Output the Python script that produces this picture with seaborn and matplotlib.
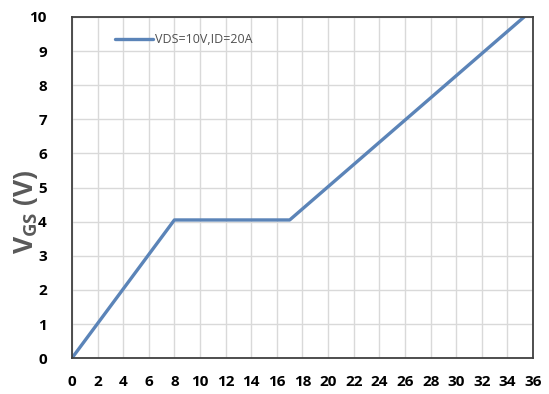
import matplotlib
matplotlib.use("Agg")
import matplotlib.pyplot as plt
import seaborn as sns
import pandas as pd

# Gate charge curve: gate-source voltage vs gate charge
qg_nc = [0, 8, 17, 35.3]
vgs_v = [0, 4.05, 4.05, 10]
series_label = "VDS=10V,ID=20A"
x_ticks = list(range(0, 37, 2))
y_ticks = list(range(0, 11))

df = pd.DataFrame({"Qg": qg_nc, "VGS": vgs_v, "cond": series_label})

sns.set_theme(style="white")
plt.rcParams["font.family"] = ["Open Sans", "DejaVu Sans"]

fig = plt.figure(figsize=(5.49, 3.94), dpi=100)
ax = fig.add_axes([0.131, 0.091, 0.840, 0.866])

sns.lineplot(data=df, x="Qg", y="VGS", hue="cond", palette=["#5B84B8"],
             linewidth=2.4, ax=ax, legend=True)

ax.set_xlim(0, 36)
ax.set_ylim(0, 10)
ax.set_xticks(x_ticks)
ax.set_yticks(y_ticks)
ax.grid(True, color="#D9D9D9", linewidth=1.0)
ax.set_axisbelow(True)

for s in ax.spines.values():
    s.set_color("#404040")
    s.set_linewidth(1.3)

ax.tick_params(axis="both", length=0, labelsize=11, colors="black")
ax.tick_params(axis="x", pad=12)
ax.tick_params(axis="y", pad=18)
for lab in ax.get_xticklabels() + ax.get_yticklabels():
    lab.set_fontweight("bold")

ax.set_xlabel("")
ax.set_ylabel(r"V$_{\mathregular{GS}}$ (V)", fontsize=19, fontweight="bold",
              color="#595959")
ax.yaxis.set_label_coords(-0.07, 0.43)

leg = ax.legend(loc="upper left", bbox_to_anchor=(0.07, 0.985), frameon=False,
                fontsize=9, handlelength=3.0, handletextpad=0.15)
for t in leg.get_texts():
    t.set_color("#505050")

fig.savefig("out.png", dpi=100)
